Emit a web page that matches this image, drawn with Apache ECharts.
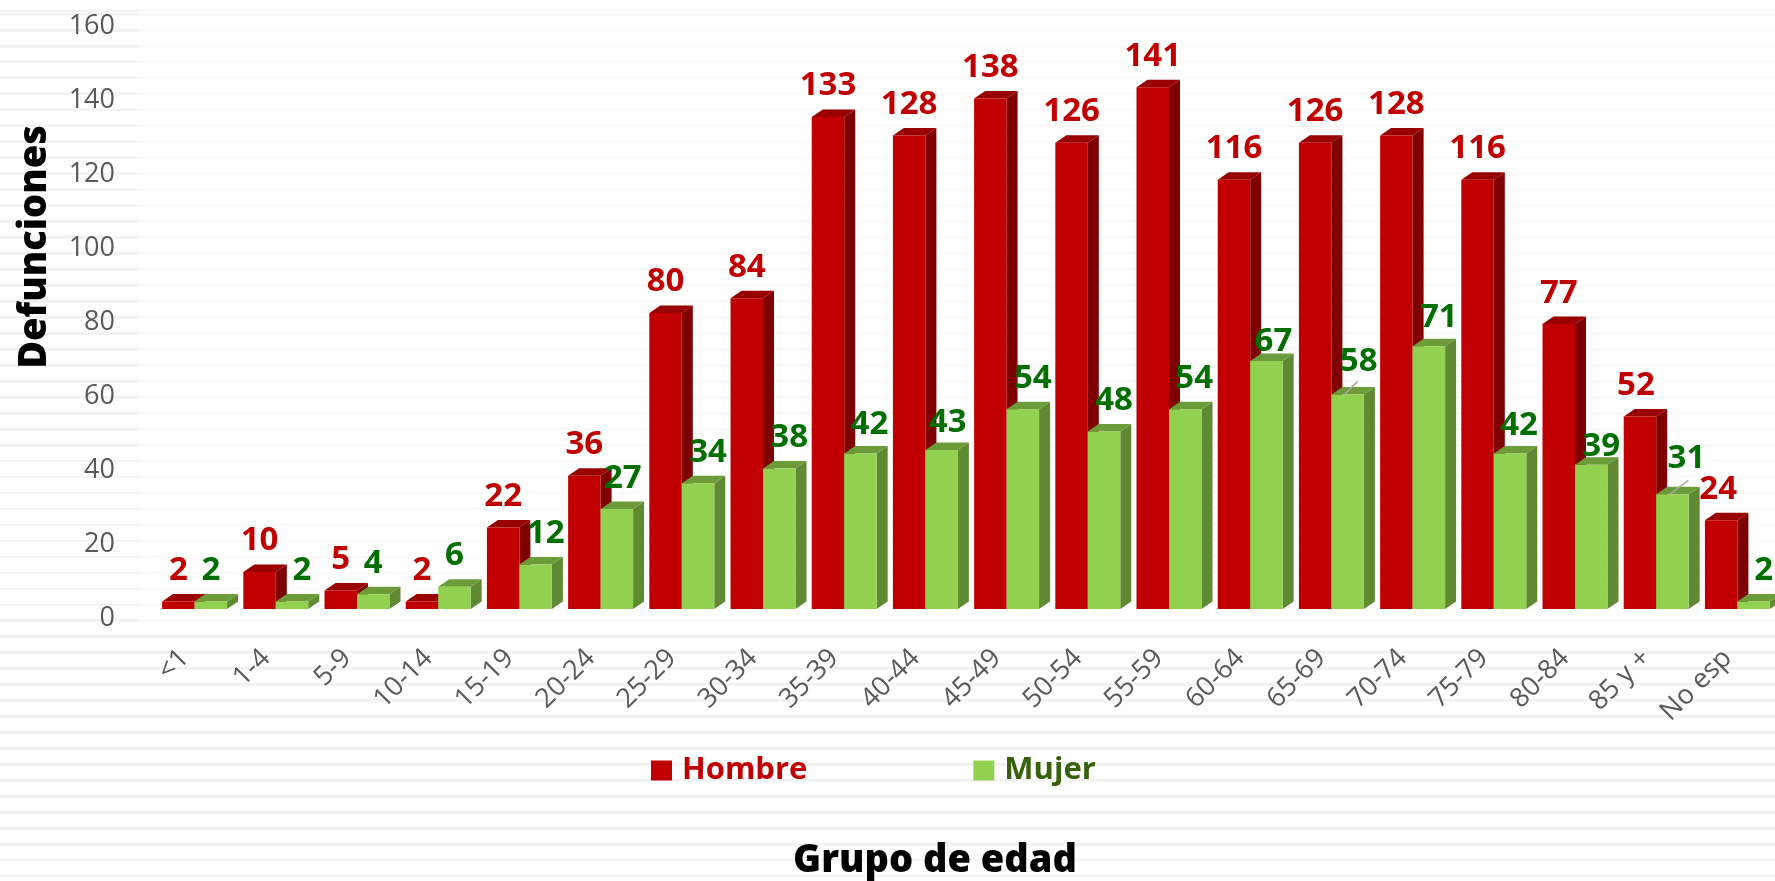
<!DOCTYPE html>
<html><head><meta charset="utf-8">
<script src="https://cdn.jsdelivr.net/npm/echarts@6/dist/echarts.min.js"></script>
<style>
html,body{margin:0;padding:0;background:#fff;width:1775px;height:881px;overflow:hidden}
#bg,#bgSoft,#c{position:absolute;left:0;top:0}
#bg{width:1775px;height:881px;background-image:repeating-linear-gradient(to bottom,#f2f2f2 0,#f2f2f2 2.6px,#fff 2.6px,#fff 15.96px);background-position:0 12.8px}
#bgSoft{left:138px;width:1637px;height:625px;background:rgba(255,255,255,.5)}
#c{width:1775px;height:881px}
</style></head><body>
<div id="bg"></div><div id="bgSoft"></div><div id="c"></div>
<script>
const categories=['<1','1-4','5-9','10-14','15-19','20-24','25-29','30-34','35-39','40-44','45-49','50-54','55-59','60-64','65-69','70-74','75-79','80-84','85 y +','No esp'];
const hombre=[2,10,5,2,22,36,80,84,133,128,138,126,141,116,126,128,116,77,52,24];
const mujer=[2,2,4,6,12,27,34,38,42,43,54,48,54,67,58,71,42,39,31,2];
const yTicks={min:0,max:160,interval:20};
// hand-placed data label nudges [dx,dy] in px, as in the source chart
const nudgeHombre={18:[-4,0],19:[-3,0]};
const nudgeMujer={1:[10,0],4:[10,0],5:[6,0],6:[10,0],7:[10,0],8:[9,2],9:[6,4],10:[10,0],11:[10,0],12:[9,0],13:[7,11],14:[11,-2],15:[10,2],16:[9,3],17:[10,13],18:[14,-5],19:[10,0]};
const leaderMujer={14:[13,-13],18:[19,-14]};

const DEPTH_X=11,DEPTH_Y=7.5,BAR_FRAC=0.4;
const FONT='"Open Sans"';

function bar3d(offsetSign,front,top,side,labelColor,nudge,leaders){
  return function(params,api){
    const i=api.value(0),v=api.value(1);
    const base=api.coord([i,0]),head=api.coord([i,v]);
    const band=api.size([1,0])[0],w=band*BAR_FRAC;
    const x0=offsetSign<0?base[0]-w:base[0],x1=x0+w,yb=base[1],yt=head[1];
    const n=nudge[i]||[0,0];
    const ch=[
      {type:'polygon',shape:{points:[[x1,yt],[x1+DEPTH_X,yt-DEPTH_Y],[x1+DEPTH_X,yb-DEPTH_Y],[x1,yb]]},style:{fill:side}},
      {type:'polygon',shape:{points:[[x0,yt],[x0+DEPTH_X,yt-DEPTH_Y],[x1+DEPTH_X,yt-DEPTH_Y],[x1,yt]]},style:{fill:top}},
      {type:'rect',shape:{x:x0,y:yt,width:w,height:yb-yt},style:{fill:front}}
    ];
    const l=leaders&&leaders[i];
    if(l){
      const sx=(x0+x1)/2-3;
      ch.push({type:'line',shape:{x1:sx,y1:yt,x2:sx+l[0],y2:yt+l[1]},style:{stroke:'#a6a6a6',lineWidth:1.5},z2:5});
    }
    ch.push({type:'text',z2:10,style:{text:String(v),x:(x0+x1)/2+n[0],y:yt-31+n[1],fill:labelColor,font:'bold 33px '+FONT,align:'center',verticalAlign:'middle'}});
    return {type:'group',children:ch};
  };
}
const chart=echarts.init(document.getElementById('c'),null,{renderer:'canvas'});
chart.setOption({
  animation:false,
  backgroundColor:'transparent',
  grid:{left:154,top:17,width:1624,height:592,containLabel:false,outerBoundsMode:'none'},
  legend:{
    left:646,top:750,itemWidth:21,itemHeight:20,itemGap:166,icon:'rect',selectedMode:false,
    textStyle:{fontFamily:FONT,fontSize:31,fontWeight:'bold',padding:[0,0,0,5]},
    data:[{name:'Hombre',textStyle:{color:'#c00000'}},{name:'Mujer',textStyle:{color:'#38610b'}}]
  },
  xAxis:{
    type:'category',data:categories,boundaryGap:true,
    axisLine:{show:false},axisTick:{show:false},
    axisLabel:{interval:0,rotate:45,margin:35,color:'#595959',fontFamily:FONT,fontSize:27,padding:[0,14,0,0]},
    name:'Grupo de edad',nameLocation:'middle',nameGap:233,
    nameTextStyle:{fontFamily:FONT,fontSize:38,fontWeight:800,color:'#000',padding:[0,62,0,0]}
  },
  yAxis:{
    type:'value',min:yTicks.min,max:yTicks.max,interval:yTicks.interval,
    axisLine:{show:false},axisTick:{show:false},splitLine:{show:false},
    axisLabel:{margin:39,color:'#595959',fontFamily:FONT,fontSize:27,verticalAlign:'top',lineHeight:18},
    name:'Defunciones',nameLocation:'middle',nameGap:100,
    nameTextStyle:{fontFamily:FONT,fontSize:38,fontWeight:800,color:'#000',padding:[0,0,0,132]}
  },
  series:[
    {name:'Hombre',type:'custom',clip:false,itemStyle:{color:'#c00000'},encode:{x:0,y:1},
     data:hombre.map((v,i)=>[i,v]),renderItem:bar3d(-1,'#c00000','#990000','#7f0000','#c00000',nudgeHombre,null)},
    {name:'Mujer',type:'custom',clip:false,itemStyle:{color:'#92d050'},encode:{x:0,y:1},
     data:mujer.map((v,i)=>[i,v]),renderItem:bar3d(1,'#92d050','#6c9c3a','#5f8a33','#006f00',nudgeMujer,leaderMujer)}
  ]
});
</script></body></html>
